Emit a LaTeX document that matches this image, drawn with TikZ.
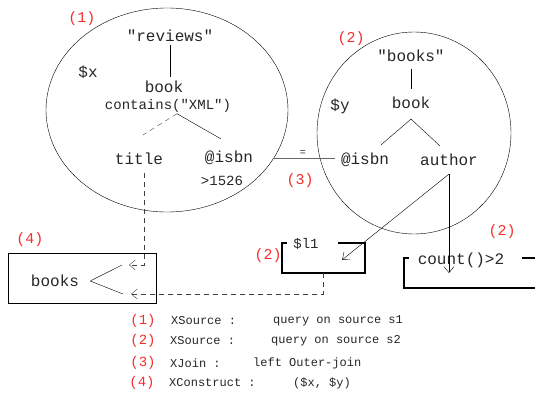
\documentclass[tikz,border=0pt]{standalone}
\usepackage{fontspec}
\usepackage{xcolor}
\usepackage{tikz}
\usetikzlibrary{arrows,arrows.meta,shapes.geometric}
\newfontfamily\mono{Liberation Mono}
\definecolor{tagred}{RGB}{245,45,45}

\begin{document}
\begin{tikzpicture}[x=1pt, y=-1pt, >={Straight Barb[length=6pt, width=10pt]},
		every node/.style={inner sep=1pt, text=black!85, font=\mono\fontsize{16}{16}\selectfont},
		tag/.style={text=tagred, font=\mono\fontsize{15}{15}\selectfont},
		small/.style={font=\mono\fontsize{14}{14}\selectfont},
		legend/.style={anchor=west, font=\mono\fontsize{12}{12}\selectfont},
		bracket/.style={line width=2pt},
		dsh/.style={black!75, dash pattern=on 5pt off 4pt},
		joinline/.style={black!60, line width=0.9pt}]
		\useasboundingbox (0,0) rectangle (535,396);

		% source 1
		\node[draw, ellipse, minimum width=242pt, minimum height=204pt] (src1) at (167,110) {};
		\node[tag] (t1) at (82,19) {(1)};
		\node (rev) at (170,36) {"reviews"};
		\node (varx) at (88,72) {\$x};
		\node (bookx) at (164,87) {book};
		\node[small] (cont) at (168,106) {contains("XML")};
		\node (title) at (139,159) {title};
		\node (isbnx) at (229,158) {@isbn};
		\node[small] (gt) at (222,181) {>1526};
		\draw[shorten <=2pt, shorten >=3pt] (rev.south -| 170,0) -- (bookx.north -| 170,0);
		\draw[dsh] ([xshift=9pt]cont.south) -- ([shift={(4pt,17pt)}]title.north);
		\draw ([xshift=9pt]cont.south) -- ([shift={(-8pt,11pt)}]isbnx.north);

		% source 2
		\node[draw, ellipse, minimum width=194pt, minimum height=202pt] (src2) at (414,133) {};
		\node[tag] (t2) at (351,39) {(2)};
		\node (bks) at (411,56) {"books"};
		\node (vary) at (340,106) {\$y};
		\node (booky) at (411,103) {book};
		\node (isbny) at (365,160) {@isbn};
		\node (auth) at (449,160) {author};
		\draw[shorten <=6pt, shorten >=7pt] (bks.south) -- (booky.north);
		\draw ([yshift=-9pt]booky.south) -- ([shift={(16pt,7pt)}]isbny.north);
		\draw ([yshift=-9pt]booky.south) -- ([shift={(-9pt,7pt)}]auth.north);

		% join
		\draw[joinline, shorten <=19pt, shorten >=5pt] (isbnx.east) -- (isbnx.east -| isbny.west) node[pos=0.57, above, inner sep=2pt, font=\mono\fontsize{10}{10}\selectfont] {=};
		\node[tag] (t3) at (300,181) {(3)};

		% $l1 box
		\node[minimum width=83pt, minimum height=30pt, inner sep=0] (l1) at (323.5,258) {};
		\draw[bracket] ([xshift=5pt]l1.north west) -- (l1.north west) -- (l1.south west) -- (l1.south east) -- (l1.north east) -- ([xshift=-27pt]l1.north east);
		\node[small] (l1txt) at (306,244) {\$l1};
		\node[tag] (t2b) at (268,256) {(2)};

		% count box
		\node[minimum width=134pt, minimum height=30pt, inner sep=0] (cnt) at (471,273) {};
		\draw[bracket] ([xshift=5pt]cnt.north west) -- (cnt.north west) -- (cnt.south west) -- (cnt.south east) -- (cnt.north east) -- ([xshift=-16pt]cnt.north east);
		\node (cnttxt) at (461,260) {count()>2};
		\node[tag] (t2c) at (502,232) {(2)};

		\draw[->] ([yshift=-7pt]auth.south) -- ([shift={(-23pt,-17pt)}]l1.north east);
		\draw[->] ([yshift=-7pt]auth.south) -- (auth.south |- cnt);

		% construct box
		\node[draw, minimum width=148pt, minimum height=50pt, inner sep=0] (cons) at (82,278.5) {};
		\node (outtxt) at (55,281) {books};
		\node[tag] (t4) at (30,240) {(4)};
		\coordinate (tip1) at (129,265);
		\coordinate (tip2) at (131,294);
		\draw ([xshift=10pt]outtxt.east) -- ([xshift=-7pt]tip1);
		\draw ([xshift=10pt]outtxt.east) -- ([xshift=-8pt]tip2);
		\draw[dsh, ->] ([shift={(5pt,-7pt)}]title.south) |- (tip1);
		\draw[dsh, ->] (l1.south) |- (tip2);

		% legend
		\node[tag, font=\mono\fontsize{14}{14}\selectfont] (n1) at (143,321) {(1)};
		\node[legend] (k1) at (170,321) {XSource :};
		\node[legend] (v1) at (272,321) {query on source s1};
		\node[tag, font=\mono\fontsize{14}{14}\selectfont] (n2) at (143,341) {(2)};
		\node[legend] (k2) at (169,341) {XSource :};
		\node[legend] (v2) at (270,341) {query on source s2};
		\node[tag, font=\mono\fontsize{14}{14}\selectfont] (n3) at (143,363) {(3)};
		\node[legend] (k3) at (169,363) {XJoin :};
		\node[legend] (v3) at (252,363) {left Outer-join};
		\node[tag, font=\mono\fontsize{14}{14}\selectfont] (n4) at (142,383) {(4)};
		\node[legend] (k4) at (168,383) {XConstruct :};
		\node[legend] (v4) at (292,383) {(\$x, \$y)};
	\end{tikzpicture}
\end{document}
